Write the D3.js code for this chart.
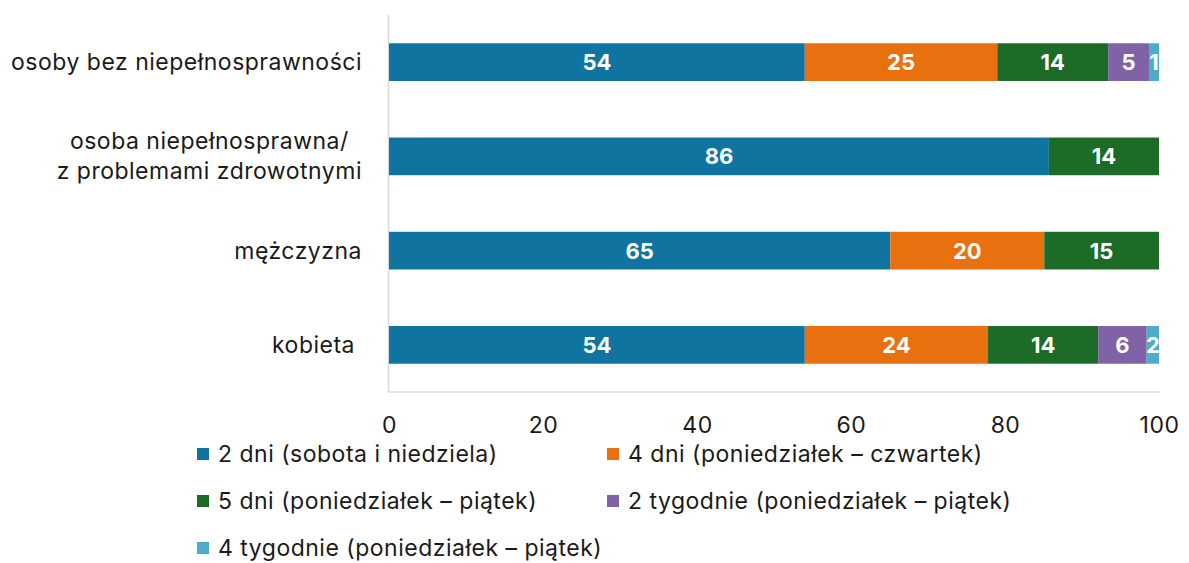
<!DOCTYPE html>
<html>
<head>
<meta charset="utf-8">
<script src="https://cdn.jsdelivr.net/npm/d3@7"></script>
<style>
  body { margin: 0; background: #fff; }
  svg text { font-family: Inter, "Open Sans", sans-serif; }
</style>
</head>
<body>
<svg width="1189" height="563"></svg>
<script>
var svg = d3.select('svg');

// data
var categories = ['osoby bez niepełnosprawności', 'osoba niepełnosprawna/\nz problemami zdrowotnymi', 'mężczyzna', 'kobieta '];
var seriesNames = ['2 dni (sobota i niedziela)', '4 dni (poniedziałek – czwartek)', '5 dni (poniedziałek – piątek)', '2 tygodnie (poniedziałek – piątek)', '4 tygodnie (poniedziałek – piątek)'];
var seriesColors = ['#0f75a0', '#e8700f', '#1c6b26', '#7f63a6', '#4badca'];
var dwaDni = [54, 85.7, 65.1, 54];
var czteryDni = [25, 0, 20, 23.8];
var pieciuDni = [14.4, 14.3, 14.9, 14.3];
var dwaTygodnie = [5.3, 0, 0, 6.3];
var czteryTygodnie = [1.3, 0, 0, 1.6];
var xTicks = [0, 20, 40, 60, 80, 100];

var seriesValues = [dwaDni, czteryDni, pieciuDni, dwaTygodnie, czteryTygodnie];

var margin = { top: 15, left: 389, right: 30, bottom: 171 };
var w = 1159 - margin.left;
var h = 392 - margin.top;

var x = d3.scaleLinear().domain([0, 100]).range([0, w]);
var y = d3.scaleBand().domain(categories).range([0, h]).paddingInner(0.6).paddingOuter(0.3);

var g = svg.append('g').attr('transform', 'translate(' + margin.left + ',' + margin.top + ')');

// frame lines
g.append('line').attr('x1', -0.5).attr('x2', -0.5).attr('y1', 0).attr('y2', h)
  .attr('stroke', '#d9d9d9').attr('stroke-width', 1.5);
g.append('line').attr('x1', -0.5).attr('x2', w + 1).attr('y1', h).attr('y2', h)
  .attr('stroke', '#d9d9d9').attr('stroke-width', 1.5);

// stacked bars
categories.forEach(function (cat, i) {
  var start = 0;
  seriesValues.forEach(function (vals, s) {
    var v = vals[i];
    if (v > 0) {
      g.append('rect')
        .attr('x', x(start))
        .attr('y', y(cat))
        .attr('width', x(start + v) - x(start))
        .attr('height', y.bandwidth())
        .attr('fill', seriesColors[s]);
      g.append('text')
        .attr('x', x(start + v / 2))
        .attr('y', y(cat) + y.bandwidth() / 2)
        .attr('dy', '0.36em')
        .attr('text-anchor', 'middle')
        .style('fill', '#fff')
        .style('font-weight', 'bold')
        .style('font-size', '22px')
        .text(Math.round(v));
    }
    start += v;
  });
});

// category labels (multi-line ones centred as a block, block right-aligned)
categories.forEach(function (cat) {
  var lines = cat.split('\n');
  var cy = y(cat) + y.bandwidth() / 2;
  var spans = lines.map(function (line, k) {
    return g.append('text')
      .attr('text-anchor', 'end')
      .attr('x', -27)
      .attr('y', cy + (k - (lines.length - 1) / 2) * 30)
      .attr('dy', '0.35em')
      .style('fill', '#1a1a1a')
      .style('font-size', '23px')
      .style('letter-spacing', '0.5px')
      .style('white-space', 'pre')
      .text(line);
  });
  if (lines.length > 1) {
    var widths = spans.map(function (s) { return s.node().getBBox().width; });
    var maxW = d3.max(widths);
    spans.forEach(function (s, k) { s.attr('x', -27 - (maxW - widths[k]) / 2); });
  }
});

// x axis
var xAxis = g.append('g')
  .attr('transform', 'translate(0,' + h + ')')
  .call(d3.axisBottom(x).tickValues(xTicks).tickSize(0).tickPadding(25));
xAxis.select('.domain').remove();
xAxis.selectAll('text').style('font-size', '23px').style('fill', '#1a1a1a')
  .style('letter-spacing', '0.5px')
  .style('font-family', 'Inter, "Open Sans", sans-serif');

// legend
var legendPos = [[197, 454], [607, 454], [197, 501], [607, 501], [197, 548]];
seriesNames.forEach(function (name, s) {
  var lg = svg.append('g').attr('transform', 'translate(' + legendPos[s][0] + ',' + legendPos[s][1] + ')');
  lg.append('rect').attr('x', 0).attr('y', -6).attr('width', 12).attr('height', 12).attr('fill', seriesColors[s]);
  lg.append('text').attr('x', 21).attr('y', 0).attr('dy', '0.35em')
    .style('font-size', '23px').style('letter-spacing', '0.5px')
    .style('fill', '#1a1a1a').text(name);
});
</script>
</body>
</html>
